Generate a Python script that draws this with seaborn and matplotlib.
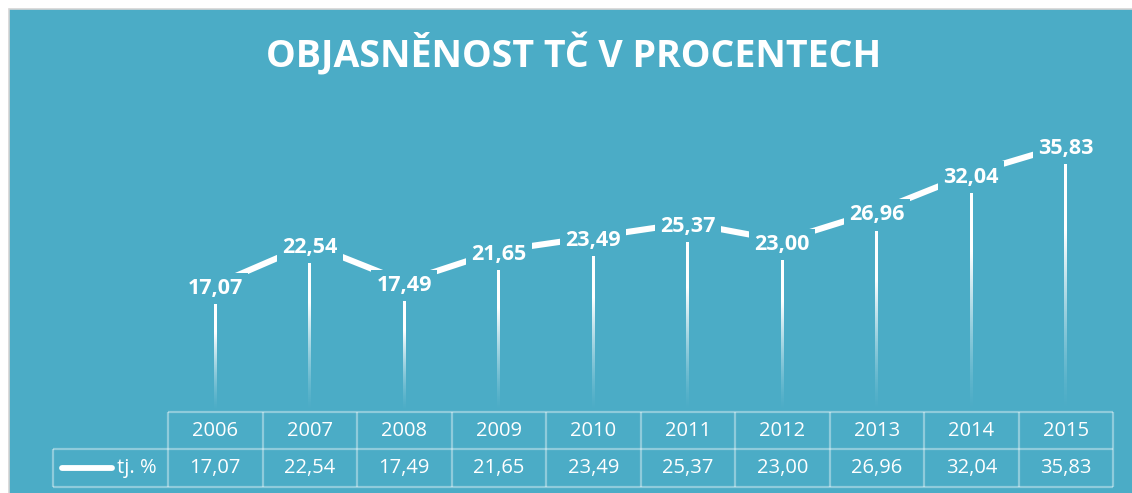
import matplotlib
matplotlib.use("Agg")
import matplotlib.pyplot as plt
from matplotlib.patches import Rectangle
import numpy as np
import pandas as pd
import seaborn as sns

YEARS = ["2006", "2007", "2008", "2009", "2010", "2011", "2012", "2013", "2014", "2015"]
VALUES = [17.07, 22.54, 17.49, 21.65, 23.49, 25.37, 23.00, 26.96, 32.04, 35.83]
SERIES = "tj. %"
TITLE = "OBJASNĚNOST TČ V PROCENTECH"

TEAL = "#4BACC6"
GRID = (1, 1, 1, 0.38)
W, H = 1132, 493

sns.set_theme(style="white")
plt.rcParams["font.family"] = ["Open Sans", "DejaVu Sans"]

df = pd.DataFrame({"idx": range(len(YEARS)), "year": YEARS, "value": VALUES})


def fmt(v: float) -> str:
    return f"{v:.2f}".replace(".", ",")


fig = plt.figure(figsize=(W / 100, H / 100), dpi=100)
fig.patch.set_facecolor("white")
fig.patches.append(Rectangle((9 / W, -0.05), 1.05, 1.05 - 9 / H,
                             transform=fig.transFigure, facecolor=TEAL,
                             edgecolor="#D4D4D4", lw=1.2, zorder=-5))

fig.text(574 / W, 1 - 55 / H, TITLE, ha="center", va="center",
         fontsize=27, fontweight="bold", color="white")

# plot area
ax = fig.add_axes([168 / W, 1 - 412 / H, 945 / W, 298 / H])
ax.patch.set_alpha(0)

# fading drop lines (vertical gradient images)
half_w = 1.5 / 94.5
n = 200
for i, v in zip(df["idx"], df["value"]):
    top = v - 2.4
    t = np.linspace(1, 0, n)  # top -> bottom
    alpha = np.clip(t / 0.72, 0, 1) ** 1.4
    img = np.ones((n, 1, 4))
    img[:, 0, 3] = alpha
    ax.imshow(img, extent=[i - half_w, i + half_w, 0, top], aspect="auto",
              interpolation="bilinear", zorder=2)

sns.lineplot(data=df, x="idx", y="value", ax=ax, color="white", lw=4.4,
             zorder=3, solid_capstyle="butt")
ax.set_xlim(-0.5, len(YEARS) - 0.5)
ax.set_ylim(0, 40)
ax.set_axis_off()

for i, v in zip(df["idx"], df["value"]):
    ax.text(i, v - 0.5, fmt(v), ha="center", va="center", fontsize=15.5,
            fontweight="bold", color="white", zorder=4,
            bbox=dict(boxstyle="square,pad=0.24", fc=TEAL, ec="none"))

# data table
col_w = 94.5
left = -0.5 - (168 - 53) / col_w
tax = fig.add_axes([53 / W, 1 - 487 / H, (1113 - 53) / W, 75 / H])
tax.set_xlim(left, len(YEARS) - 0.5)
tax.set_ylim(0, 75)
tax.set_axis_off()
tax.patch.set_alpha(0)

right = len(YEARS) - 0.5
kw = dict(color=GRID, lw=1.6, clip_on=False, solid_capstyle="butt")
tax.plot([-0.5, right], [75, 75], **kw)
tax.plot([left, right], [38, 38], **kw)
tax.plot([left, right], [0, 0], **kw)
for k in range(len(YEARS) + 1):
    tax.plot([-0.5 + k, -0.5 + k], [0, 75], **kw)
tax.plot([left, left], [0, 38], **kw)

for i, (yr, v) in enumerate(zip(YEARS, VALUES)):
    tax.text(i, 56.5, yr, ha="center", va="center", fontsize=14.5, color="white")
    tax.text(i, 19, fmt(v), ha="center", va="center", fontsize=14.5, color="white")

px = lambda p: left + (p - 53) / col_w
tax.plot([px(62), px(112)], [19, 19], color="white", lw=4.2,
         solid_capstyle="round", clip_on=False)
tax.text(px(117), 19, SERIES, ha="left", va="center", fontsize=14.5, color="white")

fig.savefig("out.png", dpi=100, facecolor=fig.get_facecolor())
